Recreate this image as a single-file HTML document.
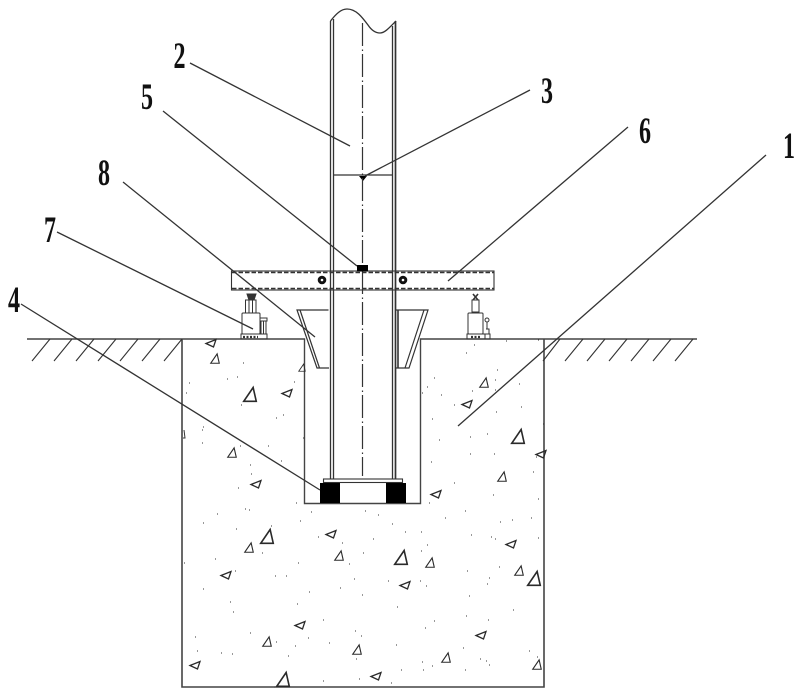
<!DOCTYPE html>
<html><head><meta charset="utf-8"><style>
html,body{margin:0;padding:0;background:#fff;width:800px;height:696px;overflow:hidden}
svg{display:block;filter:blur(.3px)}
text{font-family:"Liberation Serif",serif;font-weight:bold;font-size:37px;fill:#111;text-anchor:middle}
</style></head><body>
<svg width="800" height="696" viewBox="0 0 800 696" xmlns="http://www.w3.org/2000/svg">
<defs>
<polygon id="t" points="-5,5 5,5 2.500,-6" fill="none" stroke="#2a2a2a" stroke-width="1.3"/>
<polygon id="r" points="-5,0.500 5,-3.500 2.500,4" fill="none" stroke="#2a2a2a" stroke-width="1.3"/>
</defs>
<rect width="800" height="696" fill="#fff"/>

<!-- ground and pit -->
<g fill="none" stroke="#444" stroke-width="1.4">
<path d="M27 339H304.500V503.500H420.500V339H697"/>
<path d="M182 339V687H544V339" stroke-width="1.6"/>
</g>
<g fill="none" stroke="#333" stroke-width="1.1">
<path d="M50 339L32 361M72 339L54 361M94 339L76 361M116 339L98 361M138 339L120 361M160 339L142 361M182 339L164 361"/>
<path d="M560 339L543 361M583 339L565 361M605 339L587 361M627 339L609 361M649 339L631 361M671 339L653 361M693 339L675 361"/>
</g>

<!-- aggregate triangles -->
<g>
<use href="#t" transform="translate(267,537) scale(1.25)"/>
<use href="#t" transform="translate(249,548) scale(.85)"/>
<use href="#r" transform="translate(331,534)"/>
<use href="#t" transform="translate(339,556) scale(.85)"/>
<use href="#t" transform="translate(401,558) scale(1.25)"/>
<use href="#t" transform="translate(430,563) scale(.85)"/>
<use href="#r" transform="translate(511,544)"/>
<use href="#t" transform="translate(519,571) scale(.85)"/>
<use href="#t" transform="translate(534,579) scale(1.25)"/>
<use href="#r" transform="translate(226,575)"/>
<use href="#r" transform="translate(405,585)"/>
<use href="#r" transform="translate(300,625)"/>
<use href="#t" transform="translate(267,642) scale(.85)"/>
<use href="#t" transform="translate(357,650) scale(.85)"/>
<use href="#r" transform="translate(481,635)"/>
<use href="#t" transform="translate(446,658) scale(.85)"/>
<use href="#t" transform="translate(537,665) scale(.85)"/>
<use href="#r" transform="translate(195,665)"/>
<use href="#t" transform="translate(283,680) scale(1.25)"/>
<use href="#r" transform="translate(376,676)"/>
<use href="#r" transform="translate(211,343)"/>
<use href="#t" transform="translate(215,359) scale(.85)"/>
<use href="#t" transform="translate(250,395) scale(1.25)"/>
<use href="#r" transform="translate(287,393)"/>
<use href="#t" transform="translate(302,368) scale(.65)"/>
<use href="#t" transform="translate(232,453) scale(.85)"/>
<use href="#r" transform="translate(256,484)"/>
<use href="#t" transform="translate(484,383) scale(.85)"/>
<use href="#r" transform="translate(467,404)"/>
<use href="#t" transform="translate(518,437) scale(1.25)"/>
<use href="#r" transform="translate(541,454)"/>
<use href="#t" transform="translate(502,477) scale(.85)"/>
<use href="#r" transform="translate(436,494)"/>
<path d="M184 430L185 438L183 438" fill="none" stroke="#333" stroke-width="1"/>
</g>

<!-- aggregate dots -->
<path fill="none" stroke="#333" stroke-width="1.1" d="M217 514h1M203 523h1M236 529h1M245 509h1M249 510h1M271 526h1M296 503h1M311 512h1M300 521h1M365 511h1M378 515h1M392 524h1M405 532h1M421 532h1M445 518h1M465 511h1M500 522h1M512 520h1M531 518h1M471 535h1M491 537h1M495 539h1M538 538h1M318 537h1M342 543h1M373 539h1M427 545h1M421 551h1M363 553h1M262 553h1M215 559h1M184 563h1M298 563h1M349 564h1M235 571h1M467 571h1M499 567h1M275 576h1M286 576h1M354 579h1M388 581h1M420 581h1M426 586h1M489 578h1M487 584h1M203 589h1M340 588h1M309 592h1M362 595h1M469 596h1M230 602h1M297 604h1M233 612h1M397 607h1M513 610h1M466 616h1M488 620h1M434 621h1M323 620h1M425 628h1M355 631h1M250 633h1M195 637h1M308 638h1M361 636h1M276 642h1M329 643h1M295 646h1M396 645h1M197 651h1M221 653h1M232 654h1M288 656h1M356 659h1M463 648h1M529 651h1M537 657h1M480 659h1M486 661h1M489 665h1M422 662h1M432 666h1M423 670h1M401 670h1M465 670h1M323 681h1M359 679h1M391 683h1M274 687h1M243 363h1M227 379h1M237 377h1M189 383h1M186 393h1M241 405h1M294 382h1M276 418h1M283 415h1M203 427h1M202 430h1M202 443h1M240 446h1M268 446h1M303 438h1M281 461h1M250 465h1M251 474h1M238 488h1M296 503h1M245 509h1M506 341h1M538 340h1M474 345h1M466 353h1M497 370h1M495 380h1M434 378h1M427 387h1M422 393h1M472 391h1M441 395h1M519 384h1M495 390h1M454 405h1M496 412h1M521 407h1M432 419h1M543 424h1M487 434h1M470 437h1M439 440h1M470 454h1M494 454h1M431 462h1M536 457h1M533 472h1M454 483h1M493 495h1M538 499h1M429 503h1"/>

<!-- bottom blocks and plate -->
<rect x="320" y="483" width="20" height="20" fill="#000"/>
<rect x="386" y="483" width="20" height="20" fill="#000"/>
<rect x="323.500" y="479" width="79" height="3.500" fill="#fff" stroke="#333" stroke-width="1.100"/>

<!-- pipe -->
<g fill="none" stroke="#333" stroke-width="1.300">
<path d="M330.500 21V479M333.500 19V479"/>
<path d="M392.500 26V479"/>
<path d="M395.500 21V479" stroke-width="1.700"/>
<path d="M330.500 21C336 14 341 9 347 9C356 9 362 17 368 25C372 31 376 33 380 33C385 33 390 27 396 21"/>
<path d="M333.500 175H392"/>
</g>
<path d="M359 176H367L363 181Z" fill="#000"/>
<path d="M362.500 23V476" stroke="#333" stroke-width="1.200" fill="none" stroke-dasharray="23 3.500 1.500 3"/>

<!-- wedges -->
<g fill="none" stroke="#333" stroke-width="1.200">
<path d="M328.500 310H297L317 368H329"/>
<path d="M300 310L319.500 368"/>
<path d="M396 310H428L409 368H396"/>
<path d="M424 310L405 368"/>
<path d="M398 310V368" stroke-width="1.600"/>
</g>

<!-- beam -->
<rect x="231.500" y="271" width="262.500" height="19" fill="none" stroke="#333" stroke-width="1.100"/>
<path d="M232 272.500H494M232 288.500H494" stroke="#333" stroke-width="1.500" stroke-dasharray="4.500 2" fill="none"/>
<rect x="357" y="265" width="11" height="6.500" fill="#000"/>
<circle cx="322" cy="280" r="2.800" fill="none" stroke="#111" stroke-width="3"/>
<circle cx="403" cy="280" r="2.800" fill="none" stroke="#111" stroke-width="3"/>

<!-- left jack -->
<g fill="none" stroke="#333" stroke-width="1">
<rect x="241" y="334" width="26" height="5"/>
<path d="M243 337h15" stroke-width="2.200" stroke-dasharray="2 1.500"/>
<rect x="242" y="313" width="18" height="21" rx="1"/>
<rect x="245.500" y="300" width="10.500" height="13"/>
<path d="M249 300V313M252.500 300V313"/>
<path d="M247 294H256L254 300H249Z" fill="#333"/>
<path d="M260 318h7v3h-7zM261 321V334M263.500 321V334M266 321V334"/>
</g>
<!-- right jack -->
<g fill="none" stroke="#333" stroke-width="1">
<rect x="467" y="334" width="18" height="5"/>
<path d="M471 337h9" stroke-width="2.200" stroke-dasharray="2 1.500"/>
<rect x="468" y="313" width="15" height="21" rx="1"/>
<rect x="472" y="300" width="7" height="12"/>
<path d="M473 294L478 300M478 294L473 300" stroke-width="1.600"/>
<circle cx="487" cy="320" r="2"/>
<path d="M487 322V329"/>
<rect x="485" y="334" width="5" height="5"/>
<path d="M486 329H489V334"/>
</g>

<!-- leaders -->
<g fill="none" stroke="#333" stroke-width="1.300">
<path d="M190 63L350 146"/>
<path d="M530 90L365 176"/>
<path d="M163 111L357 266"/>
<path d="M628 127L448 281"/>
<path d="M766 155L458 426"/>
<path d="M123 182L315 337"/>
<path d="M57 232L253 329"/>
<path d="M21 304L320 490"/>
</g>

<!-- labels -->
<text transform="translate(179.500,68) scale(.65,1)">2</text>
<text transform="translate(147,109) scale(.65,1)">5</text>
<text transform="translate(104,185) scale(.65,1)">8</text>
<text transform="translate(50,242) scale(.65,1)">7</text>
<text transform="translate(14,312) scale(.65,1)">4</text>
<text transform="translate(547,103) scale(.65,1)">3</text>
<text transform="translate(645,143) scale(.65,1)">6</text>
<text transform="translate(789,158) scale(.65,1)">1</text>
</svg>
</body></html>
